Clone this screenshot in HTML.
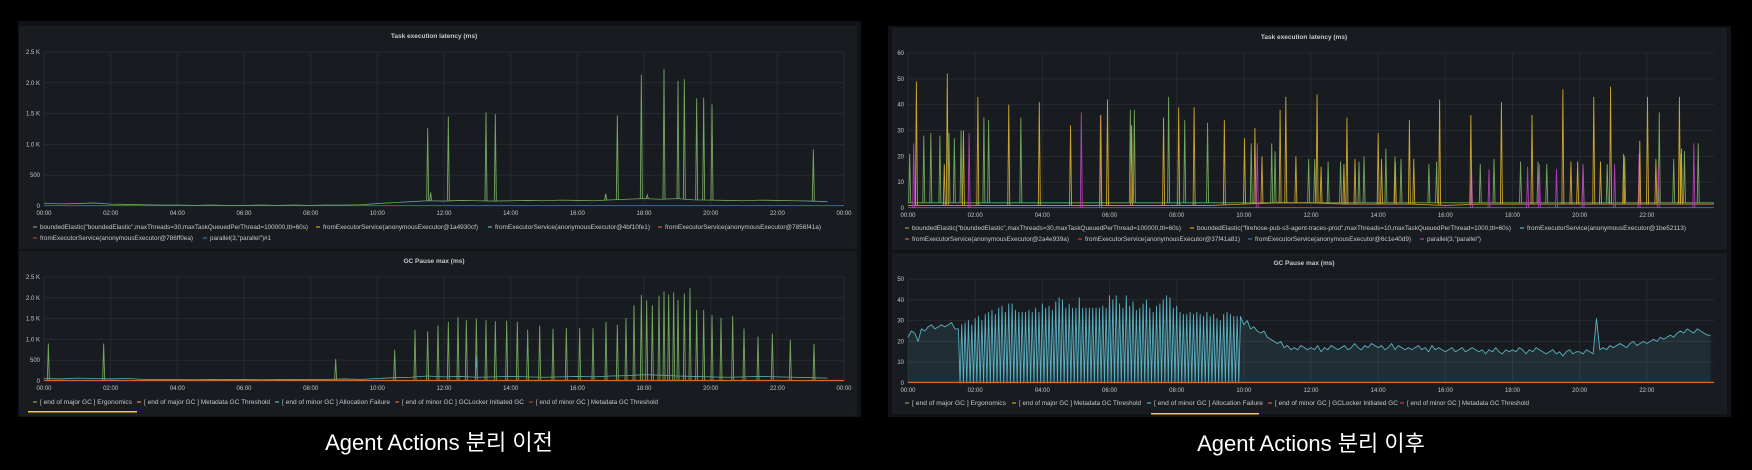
<!DOCTYPE html>
<html><head><meta charset="utf-8"><style>
html,body{margin:0;padding:0;background:#000;width:1752px;height:470px;overflow:hidden}
svg{display:block}
text{font-family:"Liberation Sans","Noto Sans CJK KR",sans-serif}
</style></head><body>
<svg id="root" width="1752" height="470" viewBox="0 0 1752 470"></svg>
<script>
// ---------- DATA ----------
const beforeLatencyBase = [45,35,40,50,30,25,20,15, 15,10,15,10,10,15,10,15, 10,15,15,20,40,55,70,85, 80,90,85,80,85,90,85,95, 90,85,100,110,120,110,120,100, 95,90,85,95,90,85,80,70];
const beforeLatencySpikeHours = [11.51,11.6,12.13,13.26,13.54,16.85,17.2,17.92,18.1,18.6,19.02,19.21,19.58,19.79,20.04,23.08];
const beforeLatencySpikeValues = [1265,220,1450,1520,1490,200,1470,2130,180,2220,2030,2060,1750,1760,1650,920];
const beforeGcMinorBase = [60,50,70,60,50,60,40,40, 40,30,40,35,40,30,40,35, 40,40,50,40,60,80,90,120, 100,110,90,100,110,100,90,100, 110,100,120,130,150,140,120,110, 100,90,100,110,100,90,80,70];
const beforeGcMajorHours = [0.13,1.79,8.75,10.52,11.13,11.51,11.82,12.13,12.42,12.67,12.97,13.26,13.54,13.88,14.2,14.51,14.87,15.27,15.67,16.07,16.47,16.86,17.2,17.46,17.7,17.92,18.08,18.25,18.45,18.6,18.74,18.89,19.02,19.21,19.38,19.58,19.79,20.04,20.31,20.66,21.0,21.42,21.85,22.39,23.1];
const beforeGcMajorValues = [900,900,530,750,1230,1200,1330,1420,1530,1460,1500,1460,1440,1450,1420,1230,1330,1260,1280,1270,1270,1420,1350,1510,1820,2070,1940,1820,2050,2150,2080,2130,1950,2100,2240,1710,1710,1580,1520,1560,1260,1070,1140,990,890];
const beforeGcMinorSpikeHours = [12.97];
const beforeGcMinorSpikeValues = [600];
const afterGreenBase = [2,2,2,2,2,2,2,2,2,2,2,2,2,2,2,2,2,2,2,2,2,2,2,2,2];
const afterYellowBase = [1,1,1,1,1,1,1,1,1,1,1.5,2,2,1.5,1.5,1.5,1,1.5,1.5,1.5,1.5,1.5,1.5,1.5,1.5];
const afterYellowHours = [0.25,1.08,1.17,1.65,2.08,3.0,3.91,4.84,5.74,5.94,6.66,7.61,8.06,8.52,9.42,10.02,10.33,10.54,11.08,11.25,11.55,12.18,12.30,12.98,13.07,13.31,14.0,14.1,14.51,14.93,15.06,15.83,16.76,17.67,18.58,19.5,19.74,19.94,20.42,20.62,20.92,21.31,21.79,22.02,22.27,22.97,23.03];
const afterYellowValues = [49,17,52,30,43,40,41,32,36,42,32,35,39,39,34,27,31,20,38,43,20,44,16,17,35,19,29,19,18,34,19,42,36,41,36,46,18,18,43,18,47,21,26,43,19,43,23];
const afterGreenHours = [0.05,0.47,0.68,0.95,1.22,1.38,1.58,2.26,2.4,3.36,6.62,6.74,7.76,8.24,8.92,10.22,10.83,10.93,11.93,12.11,12.51,12.88,13.43,13.58,14.23,14.5,14.68,15.51,15.74,17.04,17.45,18.24,18.76,19.02,20.1,20.82,21.34,22.37,22.8,23.02,23.12,23.53];
const afterGreenValues = [21,28,29,28,29,27,30,35,34,35,38,38,43,34,33,25,25,22,19,19,18,18,18,20,23,20,19,17,18,17,19,18,18,17,17,17,20,37,19,21,22,25];
const afterPinkHours = [0.17,1.82,5.16,5.73,10.4,16.78,17.3,18.45,18.8,19.31,20.1,21.04,21.77,22.34,23.4];
const afterPinkValues = [25,29,37,36,25,16,15,16,17,15,17,17,21,16,25];
const afterGcPartA = [22,25,24,20,26,25,27,28,26,27,28,27,28,29,26];
const afterGcPartB = [26,0,28,0,29,0,30,0,28,0,31,0,32,0,30,0,33,0,34,0,
 35,0,33,0,36,0,37,0,34,0,38,0,38,0,35,0,34,0,34,0,
 34,0,35,0,34,0,36,0,34,0,38,0,36,0,37,0,35,0,39,0,
 41,0,40,0,36,0,38,0,36,0,36,0,41,0,36,0,36,0,36,0,
 36,0,36,0,36,0,37,0,36,0,42,0,40,0,42,0,38,0,36,0,
 42,0,37,0,39,0,35,0,36,0,38,0,40,0,36,0,34,0,37,0,
 38,0,40,0,42,0,41,0,36,0,37,0,34,0,33,0,33,0,34,0,
 33,0,34,0,33,0,32,0,34,0,32,0,33,0,31,0,30,0,33,0,
 34,0,33,0,32,0,32,0];
const afterGcPartC = [32,28,30,26,27,25,24,25,22,21,20,
 19,20,17,18,16,17,16,18,17,16, 17,16,18,15,17,16,18,17,16,17,
 18,16,17,19,17,16,18,17,19,18, 17,18,16,17,19,16,18,17,16,17,
 16,17,18,16,17,15,18,16,17,16, 15,16,17,15,16,17,15,16,17,16,
 15,16,14,16,15,17,15,14,16,15, 16,15,17,16,14,16,15,17,16,15,
 14,15,16,14,15,13,15,16,14,15, 15,14,16,15,14,31,16,17,16,18,
 17,18,19,18,17,19,20,18,19,20, 19,20,21,20,22,21,22,23,22,24,
 25,24,26,25,24,26,25,24,23,23];
const beforeYTicks = ['0','500','1.0 K','1.5 K','2.0 K','2.5 K'];
const afterTopYTicks = ['0','10','20','30','40','50','60'];
const afterGcYTicks = ['0','10','20','30','40','50'];
const xTickLabelsBefore = ['00:00','02:00','04:00','06:00','08:00','10:00','12:00','14:00','16:00','18:00','20:00','22:00','00:00'];
const xTickLabelsAfter = ['00:00','02:00','04:00','06:00','08:00','10:00','12:00','14:00','16:00','18:00','20:00','22:00'];

// ---------- RENDER ----------
const NS='http://www.w3.org/2000/svg';
const root=document.getElementById('root');
function el(tag,attrs,parent,txt){const e=document.createElementNS(NS,tag);for(const k in attrs)e.setAttribute(k,attrs[k]);if(txt!==undefined)e.textContent=txt;(parent||root).appendChild(e);return e;}
const C={green:'#73a75f',yellow:'#c9a531',teal:'#5ab0c0',orange:'#d3652f',red:'#c4403a',blue:'#3d72b4',pink:'#b03fb6',grid:'#272a30',txt:'#c7c9cc',panel:'#181b1f',outer:'#111217'};

function makeAxes(p){return {x:h=>p.x0+(p.x1-p.x0)*h/24, y:v=>p.yZero-(p.yZero-p.yTop)*v/p.yMax};}
function drawFrame(g,p,yTicks,xTicks,name){
  const ax=makeAxes(p);
  for(let i=0;i<yTicks.length;i++){
    const v=p.yMax*i/(yTicks.length-1);const y=ax.y(v);
    const ln=el('line',{x1:p.x0,x2:p.x1,y1:y,y2:y,stroke:C.grid,'stroke-width':1},g);
    
    const t=el('text',{x:p.x0-4,y:y+2,'font-size':6,fill:C.txt,'text-anchor':'end'},g,yTicks[i]);
    
  }
  for(let i=0;i<xTicks.length;i++){
    const x=ax.x(i*2);
    const ln=el('line',{x1:x,x2:x,y1:p.yTop,y2:p.yZero,stroke:C.grid,'stroke-width':1},g);
    
    const t=el('text',{x:x,y:p.yZero+9,'font-size':6,fill:C.txt,'text-anchor':'middle'},g,xTicks[i]);
    
  }
  return ax;
}
function interp(arr,step,h){const i=h/step;const a=Math.floor(i);const b=Math.min(a+1,arr.length-1);const f=i-a;return arr[Math.min(a,arr.length-1)]*(1-f)+arr[b]*f;}
function drawLine(g,ax,pts,color,name,w){
  const d=pts.map((pt,i)=>(i?'L':'M')+ax.x(pt[0]).toFixed(2)+','+ax.y(pt[1]).toFixed(2)).join('');
  const e=el('path',{d:d,fill:'none',stroke:color,'stroke-width':w||0.8,'stroke-linejoin':'round'},g);
  return e;
}
function drawSpikes(g,ax,hours,vals,baseArr,baseStep,color,name){
  for(let i=0;i<hours.length;i++){
    const b=interp(baseArr,baseStep,hours[i]);
    const d='M'+(ax.x(hours[i])-1).toFixed(2)+','+ax.y(b).toFixed(2)+'L'+ax.x(hours[i]).toFixed(2)+','+ax.y(vals[i]).toFixed(2)+'L'+(ax.x(hours[i])+1).toFixed(2)+','+ax.y(b).toFixed(2);
    const e=el('path',{d:d,fill:'none',stroke:color,'stroke-width':0.9},g);
    
  }
}
function seriesPts(arr,step,start){return arr.map((v,i)=>[start+i*step,v]);}
function legend(g,items,name){
  items.forEach(it=>{
    const m=el('line',{x1:it.x,x2:it.x+4,y1:it.y-2,y2:it.y-2,stroke:it.c,'stroke-width':1.2},g);
    
    const t=el('text',{x:it.x+7,y:it.y,'font-size':6,fill:C.txt},g,it.t);
    if(it.w){t.setAttribute('textLength',it.w);t.setAttribute('lengthAdjust','spacingAndGlyphs');}
    
  });
}
function panel(x,y,w,h,title,tx,ty,name){
  const g=el('g',{});
  el('rect',{x:x,y:y,width:w,height:h,fill:C.panel,stroke:'#202226','stroke-width':1},g);
  const t=el('text',{x:tx,y:ty,'font-size':6.5,'font-weight':'bold',fill:C.txt,'text-anchor':'middle'},g,title);
  
  return g;
}
const o1=el('rect',{x:18,y:21,width:843,height:396,fill:C.outer});
const o2=el('rect',{x:888,y:26,width:843,height:391,fill:C.outer});

let g=panel(20,27,836,221,'Task execution latency (ms)',434,38,'before-latency-panel');
let p={x0:44,x1:844,yTop:52,yZero:206,yMax:2500};
let ax=drawFrame(g,p,beforeYTicks,xTickLabelsBefore,'before-latency');
drawLine(g,ax,[[0,8],[24,8]],C.blue,'parallel-series-line');
drawLine(g,ax,seriesPts(beforeLatencyBase,0.5,0),C.green,'bounded-elastic-line');
drawSpikes(g,ax,beforeLatencySpikeHours,beforeLatencySpikeValues,beforeLatencyBase,0.5,C.green,'latency-spike');
legend(g,[
 {x:33,y:229,c:C.green,t:'boundedElastic("boundedElastic",maxThreads=30,maxTaskQueuedPerThread=100000,ttl=60s)',w:268},
 {x:316,y:229,c:C.yellow,t:'fromExecutorService(anonymousExecutor@1a4930cf)',w:155},
 {x:488,y:229,c:C.teal,t:'fromExecutorService(anonymousExecutor@4bf10fe1)',w:155},
 {x:658,y:229,c:C.orange,t:'fromExecutorService(anonymousExecutor@7856f41a)',w:156},
 {x:33,y:240,c:C.red,t:'fromExecutorService(anonymousExecutor@786ff0ea)',w:153},
 {x:203,y:240,c:C.blue,t:'parallel(3,"parallel")#1',w:61}
],'before-latency-legend');

g=panel(20,252,836,163,'GC Pause max (ms)',434,263,'before-gc-panel');
p={x0:44,x1:844,yTop:277,yZero:381,yMax:2500};
ax=drawFrame(g,p,beforeYTicks,xTickLabelsBefore,'before-gc');
drawLine(g,ax,[[0,12],[24,12]],C.orange,'gclocker-line',1.2);
drawLine(g,ax,seriesPts(beforeGcMinorBase,0.5,0),C.teal,'allocation-failure-line');
drawSpikes(g,ax,beforeGcMinorSpikeHours,beforeGcMinorSpikeValues,beforeGcMinorBase,0.5,C.teal,'minor-gc-spike');
drawSpikes(g,ax,beforeGcMajorHours,beforeGcMajorValues,beforeGcMinorBase.map(()=>25),0.5,C.green,'major-gc-spike');
legend(g,[
 {x:33,y:404,c:C.green,t:'[ end of major GC ] Ergonomics',w:92},
 {x:137,y:404,c:C.yellow,t:'[ end of major GC ] Metadata GC Threshold',w:126},
 {x:275,y:404,c:C.teal,t:'[ end of minor GC ] Allocation Failure',w:108},
 {x:395,y:404,c:C.orange,t:'[ end of minor GC ] GCLocker Initiated GC',w:122},
 {x:529,y:404,c:C.red,t:'[ end of minor GC ] Metadata GC Threshold',w:122}
],'before-gc-legend');
let hl=el('rect',{x:28,y:411,width:109,height:1.5,fill:'#f2d31b'});

g=panel(893,29,833,220,'Task execution latency (ms)',1304,39,'after-latency-panel');
p={x0:908,x1:1714,yTop:53,yZero:208,yMax:60};
ax=drawFrame(g,p,afterTopYTicks,xTickLabelsAfter,'after-latency');
drawLine(g,ax,seriesPts(afterGreenBase,1,0),C.green,'after-bounded-elastic-line');
drawLine(g,ax,seriesPts(afterYellowBase,1,0),C.yellow,'after-firehose-line');
drawLine(g,ax,[[0,0.2],[24,0.2]],C.pink,'after-parallel-line');
drawSpikes(g,ax,afterGreenHours,afterGreenValues,afterGreenBase,1,C.green,'after-green-spike');
drawSpikes(g,ax,afterPinkHours,afterPinkValues,afterGreenBase.map(()=>0),1,C.pink,'after-pink-spike');
drawSpikes(g,ax,afterYellowHours,afterYellowValues,afterYellowBase,1,C.yellow,'after-yellow-spike');
legend(g,[
 {x:905,y:230,c:C.green,t:'boundedElastic("boundedElastic",maxThreads=30,maxTaskQueuedPerThread=100000,ttl=60s)',w:269},
 {x:1190,y:230,c:C.yellow,t:'boundedElastic("firehose-pub-s3-agent-traces-prod",maxThreads=10,maxTaskQueuedPerThread=1000,ttl=60s)',w:314},
 {x:1520,y:230,c:C.teal,t:'fromExecutorService(anonymousExecutor@1be52113)',w:159},
 {x:905,y:241,c:C.orange,t:'fromExecutorService(anonymousExecutor@2a4e939a)',w:157},
 {x:1078,y:241,c:C.red,t:'fromExecutorService(anonymousExecutor@37f41a81)',w:155},
 {x:1248,y:241,c:C.blue,t:'fromExecutorService(anonymousExecutor@6c1e40d9)',w:156},
 {x:1420,y:241,c:C.pink,t:'parallel(3,"parallel")',w:54}
],'after-latency-legend');

g=panel(893,254,833,159,'GC Pause max (ms)',1304,265,'after-gc-panel');
p={x0:908,x1:1714,yTop:279,yZero:383,yMax:50};
ax=drawFrame(g,p,afterGcYTicks,xTickLabelsAfter,'after-gc');
const gcPts=seriesPts(afterGcPartA,0.1,0).concat(seriesPts(afterGcPartB,0.05,1.5)).concat(seriesPts(afterGcPartC,0.1,9.9));
const last=gcPts[gcPts.length-1][0];
const area=el('path',{d:'M'+ax.x(0)+','+ax.y(0)+gcPts.map(pt=>'L'+ax.x(pt[0]).toFixed(2)+','+ax.y(pt[1]).toFixed(2)).join('')+'L'+ax.x(last)+','+ax.y(0)+'Z',fill:'rgba(90,176,192,0.13)'},g);

drawLine(g,ax,gcPts,C.teal,'after-allocation-failure-line',0.9);
drawLine(g,ax,[[0,0.3],[24,0.3]],C.orange,'after-gclocker-line',1.2);
legend(g,[
 {x:905,y:405,c:C.green,t:'[ end of major GC ] Ergonomics',w:94},
 {x:1012,y:405,c:C.yellow,t:'[ end of major GC ] Metadata GC Threshold',w:122},
 {x:1147,y:405,c:C.teal,t:'[ end of minor GC ] Allocation Failure',w:109},
 {x:1268,y:405,c:C.orange,t:'[ end of minor GC ] GCLocker Initiated GC',w:123},
 {x:1400,y:405,c:C.red,t:'[ end of minor GC ] Metadata GC Threshold',w:122}
],'after-gc-legend');
hl=el('rect',{x:1151,y:413,width:108,height:1.5,fill:'#f2d31b'});

let cap=el('text',{x:439,y:450,'font-size':22,fill:'#fff','text-anchor':'middle'},root,'Agent Actions 분리 이전');

cap=el('text',{x:1311,y:451,'font-size':22,fill:'#fff','text-anchor':'middle'},root,'Agent Actions 분리 이후');

</script>
</body></html>
